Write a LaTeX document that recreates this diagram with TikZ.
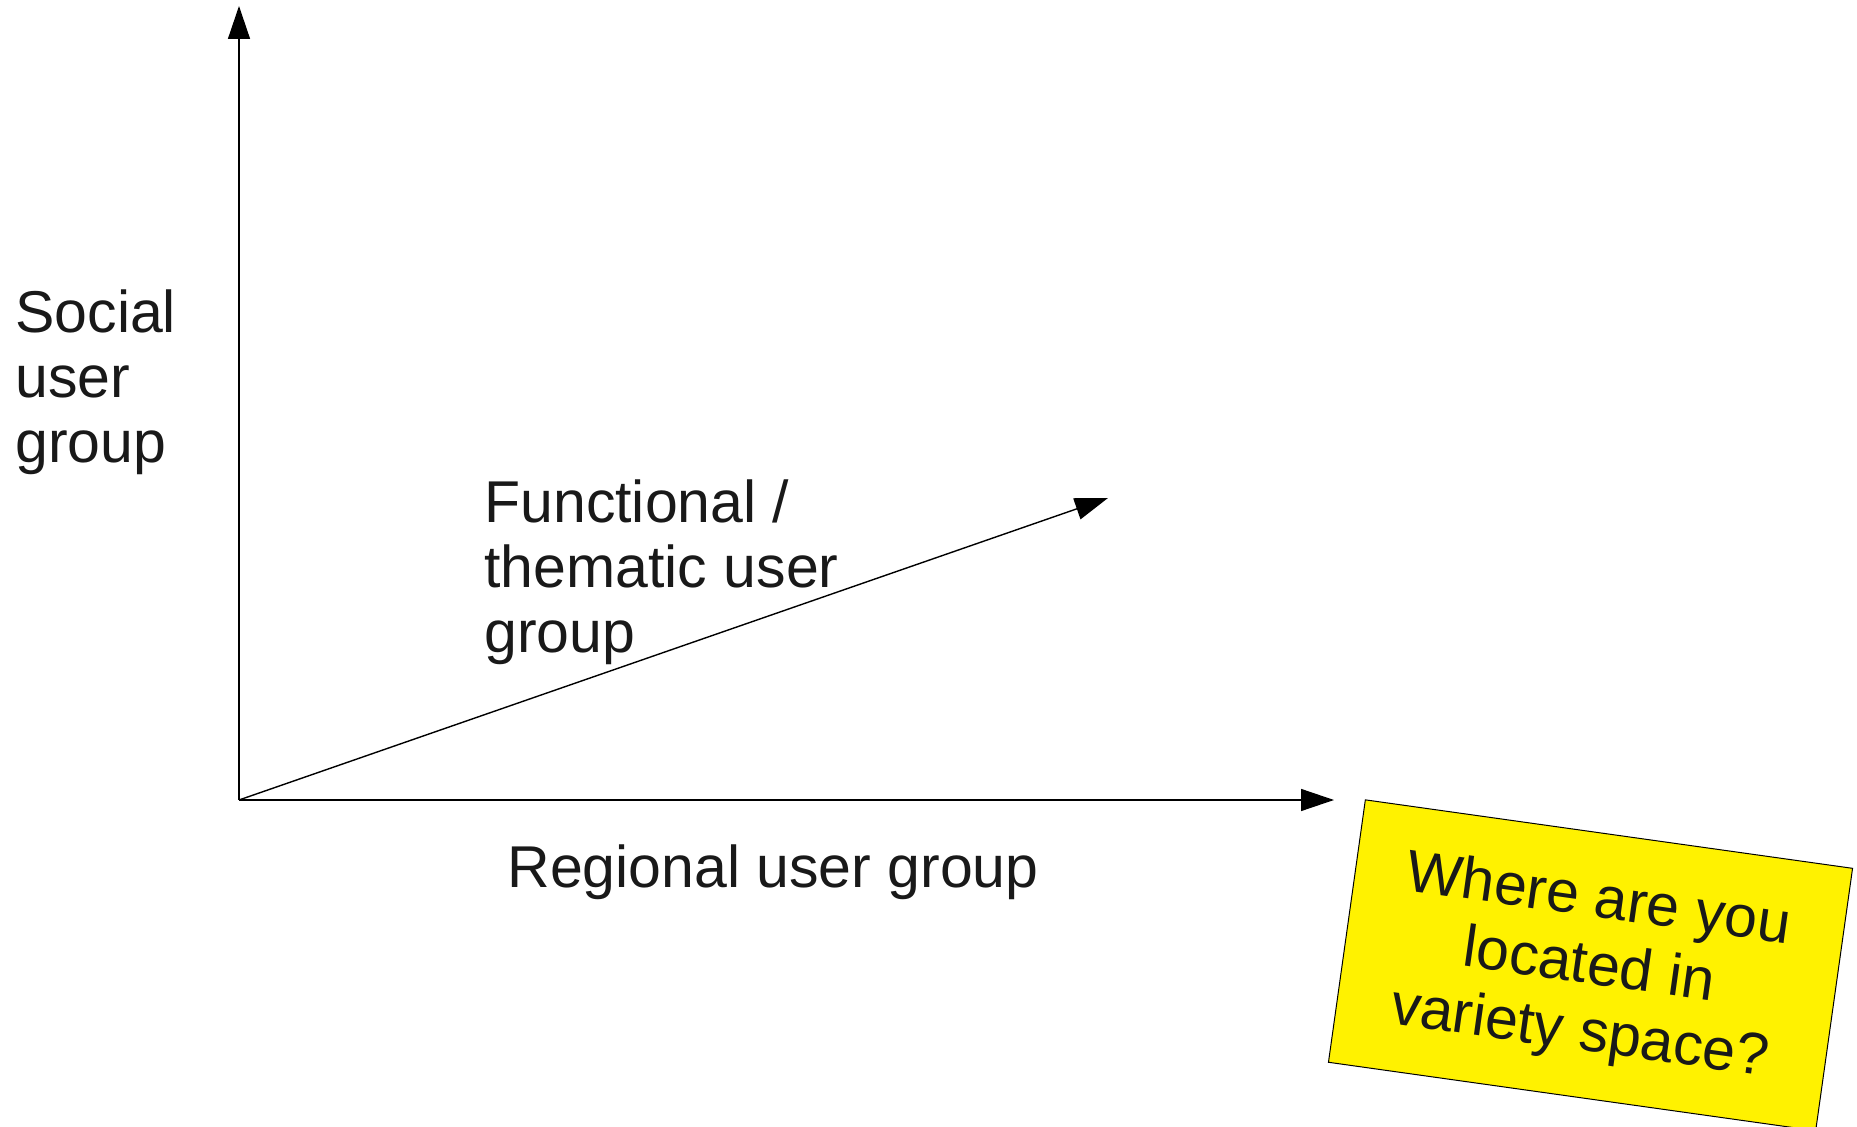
\documentclass[tikz,border=0pt]{standalone}
\usepackage{fontspec}
\setmainfont{Liberation Sans}
\usetikzlibrary{arrows.meta}
\begin{document}
\begin{tikzpicture}[x=0.5pt,y=-0.5pt,
  lab/.style={font=\fontsize{29.5pt}{32.5pt}\selectfont, text=black!90, inner sep=0pt, align=left},
  axis/.style={line width=0.7pt, draw=black, -{Triangle[length=16.5pt,width=11pt]}},
  qbox/.style={draw=black, line width=0.5pt, fill=yellow, minimum width=246pt, minimum height=132.5pt, inner sep=0pt, rotate=-8},
]
\useasboundingbox (0,0) rectangle (1857,1127);
\coordinate (O) at (239,800);
\coordinate (Ytip) at (239,6);
\coordinate (Xtip) at (1334,800);
\coordinate (Ztip) at (1108,498);
\draw[axis] (O) -- (Ytip);
\draw[axis] (O) -- (Xtip);
\draw[axis] (O) -- (Ztip);
\node[lab, anchor=base west] (social) at (15,463) {Social\\user\\group};
\node[lab, anchor=base west] (func) at (484,653) {Functional /\\thematic user\\group};
\node[lab, anchor=base west] (reg) at (507,887) {Regional user group};
\node[qbox] (box) at (1590.5,965.3) {};
\node[lab, align=center, rotate=-8, font=\fontsize{29.5pt}{33.5pt}\selectfont] (q) at ([shift={(-1.7,3)}]box.center) {Where are you\\located in\\variety space?};
\end{tikzpicture}
\end{document}
